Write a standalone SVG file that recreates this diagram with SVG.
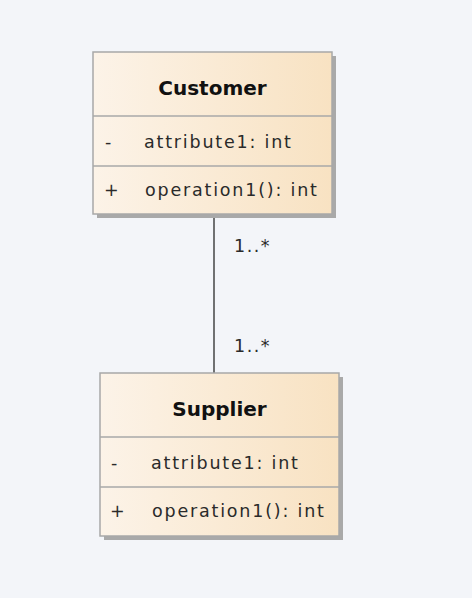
<svg xmlns="http://www.w3.org/2000/svg" width="472" height="598" viewBox="0 0 472 598">
<defs>
<linearGradient id="fill" x1="0" y1="0" x2="1" y2="0">
<stop offset="0" stop-color="#fcf3e8"/>
<stop offset="1" stop-color="#f8e2c2"/>
</linearGradient>
<style>
.shadow{fill:#a9a9a9;}
.box{fill:url(#fill);stroke:#a8a8a8;stroke-width:1.5;}
.div{stroke:#a8a8a8;stroke-width:1.5;fill:none;}
.t{font-family:"DejaVu Sans",Verdana,sans-serif;font-size:17.5px;letter-spacing:1.8px;fill:#2a2a2a;}
.m{font-family:"DejaVu Sans",Verdana,sans-serif;font-size:17.5px;letter-spacing:1.5px;fill:#2a2a2a;}
.name{font-family:"DejaVu Sans",Verdana,sans-serif;font-size:20px;font-weight:bold;fill:#111;text-anchor:middle;}
.conn{stroke:#444;stroke-width:1.5;fill:none;}
</style>
</defs>
<rect x="0" y="0" width="472" height="598" fill="#f3f5f9"/>
<g id="connectors">
<line class="conn" x1="214" y1="214" x2="214" y2="373"/>
<text class="m" x="234" y="252">1..*</text>
<text class="m" x="234" y="352">1..*</text>
</g>
<g id="customer">
<rect class="shadow" x="97" y="56" width="239" height="162"/>
<rect class="box" x="93" y="52" width="239" height="162"/>
<line class="div" x1="93" y1="116" x2="332" y2="116"/>
<line class="div" x1="93" y1="166" x2="332" y2="166"/>
<text class="name" x="212.5" y="95">Customer</text>
<text class="t" x="105" y="148">-</text>
<text class="t" x="144" y="148">attribute1: int</text>
<text class="t" x="104" y="196">+</text>
<text class="t" x="145" y="196">operation1(): int</text>
</g>
<g id="supplier">
<rect class="shadow" x="104" y="377" width="239" height="163"/>
<rect class="box" x="100" y="373" width="239" height="163"/>
<line class="div" x1="100" y1="437" x2="339" y2="437"/>
<line class="div" x1="100" y1="487" x2="339" y2="487"/>
<text class="name" x="219.5" y="416">Supplier</text>
<text class="t" x="111" y="469">-</text>
<text class="t" x="151" y="469">attribute1: int</text>
<text class="t" x="110" y="517">+</text>
<text class="t" x="152" y="517">operation1(): int</text>
</g>
</svg>
